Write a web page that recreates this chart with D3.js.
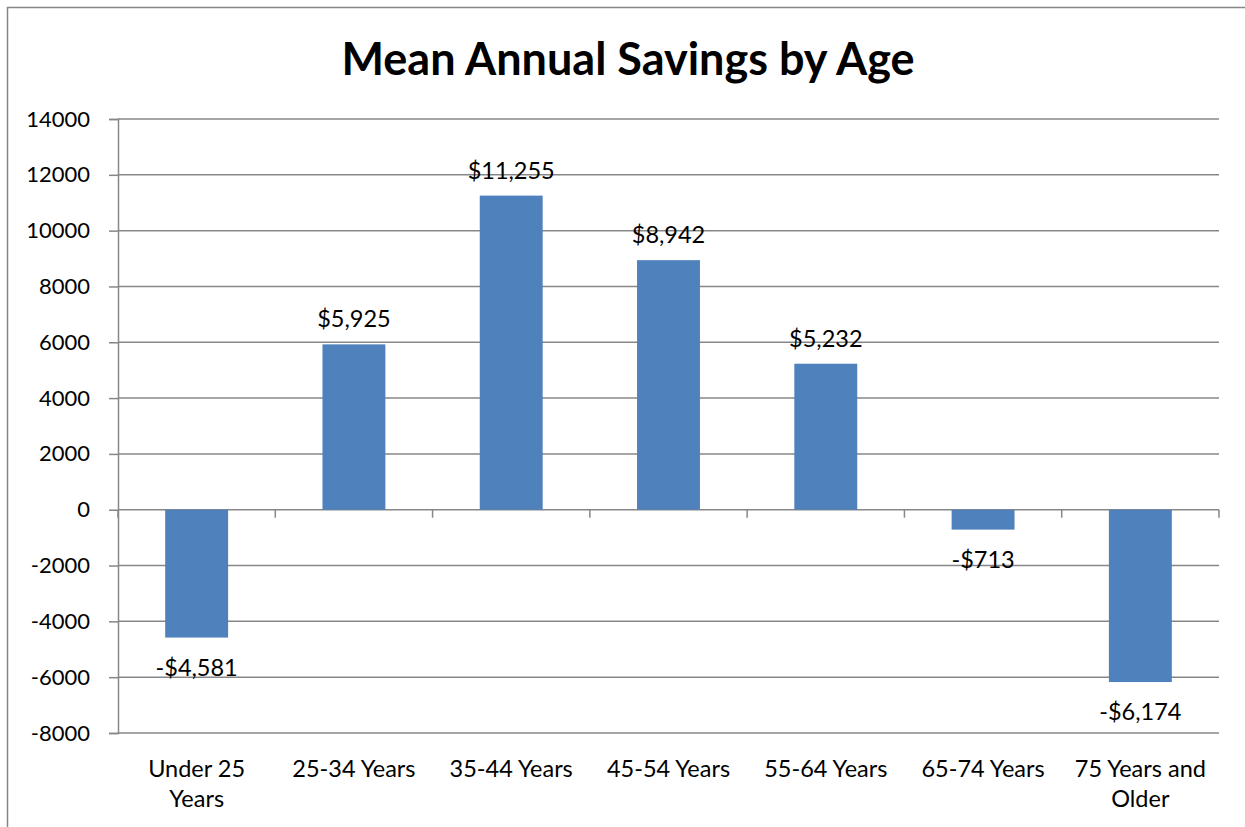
<!DOCTYPE html>
<html>
<head>
<meta charset="utf-8">
<script src="https://cdn.jsdelivr.net/npm/d3@7"></script>
<style>
  body { margin: 0; background: #fff; }
  text { font-family: Lato, "Open Sans", sans-serif; fill: #000; }
</style>
</head>
<body>
<div id="chart"></div>
<script>
// chart data
const categories = ["Under 25 Years", "25-34 Years", "35-44 Years", "45-54 Years", "55-64 Years", "65-74 Years", "75 Years and Older"];
const catLines = [["Under 25", "Years"], ["25-34 Years"], ["35-44 Years"], ["45-54 Years"], ["55-64 Years"], ["65-74 Years"], ["75 Years and", "Older"]];
const savings = [-4581, 5925, 11255, 8942, 5232, -713, -6174];
const yTicks = [14000, 12000, 10000, 8000, 6000, 4000, 2000, 0, -2000, -4000, -6000, -8000];

const width = 1245, height = 827;
const margin = { top: 119, bottom: 94, left: 118, right: 26 };
const gridColor = "#878787";

const svg = d3.select("#chart").append("svg")
  .attr("width", width)
  .attr("height", height);

// outer chart frame (cropped on right/bottom)
svg.append("path")
  .attr("d", `M7.5,${height + 5} V7.5 H${width + 5}`)
  .attr("fill", "none")
  .attr("stroke", gridColor)
  .attr("stroke-width", 1.5);

// title
svg.append("text")
  .attr("x", 628)
  .attr("y", 75)
  .attr("text-anchor", "middle")
  .style("font-size", "45px")
  .style("font-weight", "bold")
  .text("Mean Annual Savings by Age");

const y = d3.scaleLinear()
  .domain([-8000, 14000])
  .range([height - margin.bottom, margin.top]);

const x = d3.scaleBand()
  .domain(categories)
  .range([margin.left, width - margin.right])
  .paddingInner(0.6)
  .paddingOuter(0.3);

// gridlines + y axis
const yAxis = svg.append("g")
  .attr("transform", `translate(${margin.left},0)`)
  .call(d3.axisLeft(y).tickValues(yTicks).tickSize(9).tickPadding(19)
    .tickFormat(d => String(d)));
yAxis.select(".domain").attr("stroke", gridColor).attr("stroke-width", 1.5);
yAxis.selectAll(".tick line").attr("stroke", gridColor).attr("stroke-width", 1.5);
yAxis.selectAll(".tick text")
  .style("font-size", "22px")
  .attr("font-family", null);

svg.append("g")
  .selectAll("line")
  .data(yTicks)
  .join("line")
  .attr("x1", margin.left)
  .attr("x2", width - margin.right)
  .attr("y1", d => y(d))
  .attr("y2", d => y(d))
  .attr("stroke", gridColor)
  .attr("stroke-width", 1.5);

// category tick marks on the zero line
const step = x.step();
svg.append("g")
  .selectAll("line")
  .data(d3.range(categories.length + 1))
  .join("line")
  .attr("x1", i => margin.left + i * step)
  .attr("x2", i => margin.left + i * step)
  .attr("y1", y(0))
  .attr("y2", y(0) + 8)
  .attr("stroke", gridColor)
  .attr("stroke-width", 1.5);

// bars
svg.append("g")
  .selectAll("rect")
  .data(savings)
  .join("rect")
  .attr("x", (d, i) => x(categories[i]))
  .attr("width", x.bandwidth())
  .attr("y", d => y(Math.max(0, d)))
  .attr("height", d => Math.abs(y(d) - y(0)))
  .attr("fill", "#4F81BD");

// data labels
const fmt = d => (d < 0 ? "-$" : "$") + d3.format(",")(Math.abs(d));
svg.append("g")
  .selectAll("text")
  .data(savings)
  .join("text")
  .attr("x", (d, i) => x(categories[i]) + x.bandwidth() / 2)
  .attr("y", d => d >= 0 ? y(d) - 17 : y(d) + 38)
  .attr("text-anchor", "middle")
  .style("font-size", "23.5px")
  .text(fmt);

// category labels
const labels = svg.append("g")
  .selectAll("text")
  .data(catLines)
  .join("text")
  .attr("x", (d, i) => x(categories[i]) + x.bandwidth() / 2)
  .attr("y", 777)
  .attr("text-anchor", "middle")
  .style("font-size", "23.5px");
labels.selectAll("tspan")
  .data(d => d)
  .join("tspan")
  .attr("x", function () { return this.parentNode.getAttribute("x"); })
  .attr("dy", (d, i) => i === 0 ? 0 : 30)
  .text(d => d);
</script>
</body>
</html>
